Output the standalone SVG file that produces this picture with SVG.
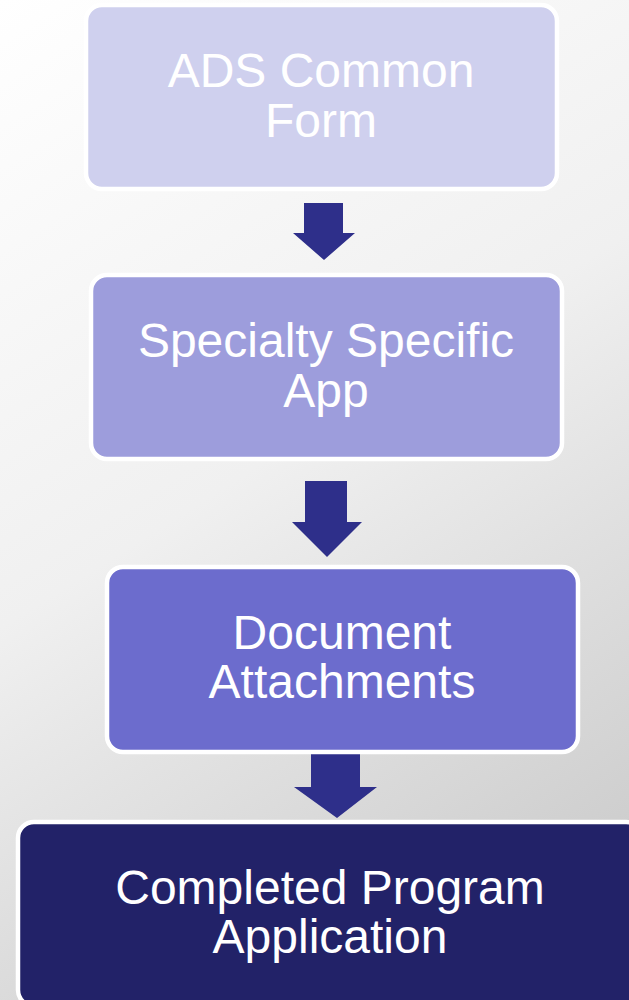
<svg xmlns="http://www.w3.org/2000/svg" width="629" height="1000" viewBox="0 0 629 1000">
  <defs>
    <linearGradient id="bg" x1="0" y1="0" x2="629" y2="1000" gradientUnits="userSpaceOnUse">
      <stop offset="0" stop-color="#ffffff"/>
      <stop offset="0.45" stop-color="#f0f0f0"/>
      <stop offset="1" stop-color="#c4c4c4"/>
    </linearGradient>
  </defs>
  <style>
    .box { stroke: #ffffff; stroke-width: 4.5; }
    .lbl { font-family: "Liberation Sans", Arial, sans-serif; font-size: 48px; fill: #ffffff; text-anchor: middle; }
    .arrow { fill: #2e2f8a; }
  </style>
  <rect x="0" y="0" width="629" height="1000" fill="url(#bg)"/>
  <g id="connectors">
    <polygon class="arrow" points="304,203 343,203 343,233 355,233 324,260 293,233 304,233"/>
    <polygon class="arrow" points="305,481 347,481 347,522 362,522 327,557 292,522 305,522"/>
    <polygon class="arrow" points="311,754 360,754 360,787 377,787 337,818 294,787 311,787"/>
  </g>
  <g id="node1">
    <rect class="box" x="86" y="5" width="471" height="184" rx="16" fill="#cfd0ee"/>
    <text class="lbl" x="321" y="87">ADS Common</text>
    <text class="lbl" x="321" y="137">Form</text>
  </g>
  <g id="node2">
    <rect class="box" x="91" y="275" width="471" height="184" rx="16" fill="#9d9ddc"/>
    <text class="lbl" x="326" y="357">Specialty Specific</text>
    <text class="lbl" x="326" y="407">App</text>
  </g>
  <g id="node3">
    <rect class="box" x="107" y="567" width="471" height="185" rx="16" fill="#6c6ccd"/>
    <text class="lbl" x="342" y="649">Document</text>
    <text class="lbl" x="342" y="698">Attachments</text>
  </g>
  <g id="node4">
    <rect class="box" x="18" y="822" width="624" height="184" rx="16" fill="#222268"/>
    <text class="lbl" x="330" y="904">Completed Program</text>
    <text class="lbl" x="330" y="953">Application</text>
  </g>
</svg>
